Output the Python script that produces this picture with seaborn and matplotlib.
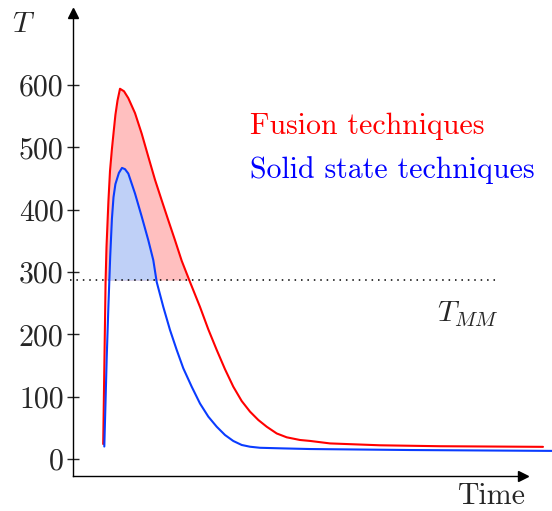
import matplotlib
matplotlib.use("Agg")

import matplotlib.pyplot as plt
import numpy as np
import pandas as pd
import seaborn as sns

# time in arbitrary units, temperatures
fusion_time = [30.2, 31.4, 32.6, 33.5, 35.4, 37.0, 38.9, 40.6, 42.4, 44.5,
               47.0, 51.0, 55.3, 62.0, 68.7, 75.3, 82.0, 88.7, 95.3, 102.0,
               108.7, 117.0, 127.0, 135.3, 143.7, 152.0, 160.3, 168.7, 177.0,
               185.3, 193.7, 203.7, 213.7, 227.0, 237.0, 257.0, 307.0, 367.0,
               470.0]
fusion_temp = [24, 155, 286, 340, 413, 462, 497, 524, 552, 575,
               594, 590, 579, 555, 522, 485, 448, 415, 383, 351,
               318, 284, 244, 208, 175, 144, 116, 93, 76,
               62.6, 51.8, 41, 34.8, 30.5, 29, 25, 22, 20.5,
               19.5]

solid_time = [31.3, 32.5, 33.7, 35.4, 37.2, 38.9, 40.5, 42.4, 45.9, 49.0,
              52.0, 55.3, 62.0, 68.7, 75.3, 80.3, 83.7, 90.3, 97.0, 103.7,
              110.3, 118.7, 127.0, 135.3, 143.7, 152.0, 160.3, 168.7, 177.0,
              187.0, 210.3, 237.0, 337.0, 479.0]
solid_temp = [20, 90, 162, 245, 325, 385, 420, 441, 459, 467,
              465, 458, 426, 389, 351, 319, 284, 244, 207, 175,
              145.5, 116, 89, 68, 51.8, 38.5, 28.9, 22.5, 19.7,
              18, 17, 16, 14.4, 13]

t_mm = 287
t_mm_span = [-3, 424]

y_ticks = [0, 100, 200, 300, 400, 500, 600]
y_tick_labels = ["0", "100", "200", "300", "400", "500", "600"]

red = "#ff0000"
blue = "#0a3cff"
red_fill = "#ffbfbf"
blue_fill = "#bfd0f7"

sns.set_style("white")
plt.rcParams["font.family"] = ["cmr10", "DejaVu Serif"]
plt.rcParams["mathtext.fontset"] = "cm"
plt.rcParams["axes.formatter.use_mathtext"] = True

W, H = 552, 511
fig = plt.figure(figsize=(W / 100, H / 100), dpi=100)
ax = fig.add_axes([73 / W, (H - 475.5) / H, 450 / W, 462.5 / H])

fusion = pd.DataFrame({"time": fusion_time, "T": fusion_temp})
solid = pd.DataFrame({"time": solid_time, "T": solid_temp})

ft = np.array(fusion_time)
fT = np.array(fusion_temp)
st = np.array(solid_time)
sT = np.array(solid_temp)
ax.fill_between(ft, fT, t_mm, where=fT >= t_mm, interpolate=True,
                color=red_fill, linewidth=0, zorder=1)
ax.fill_between(st, sT, t_mm, where=sT >= t_mm, interpolate=True,
                color=blue_fill, linewidth=0, zorder=2)

ax.plot(t_mm_span, [t_mm, t_mm], color="black", linewidth=1.1,
        dashes=(1, 3.2), zorder=3, clip_on=False)

sns.lineplot(data=fusion, x="time", y="T", color=red, linewidth=1.5,
             estimator=None, sort=False, ax=ax, zorder=4, clip_on=False)
sns.lineplot(data=solid, x="time", y="T", color=blue, linewidth=1.5,
             estimator=None, sort=False, ax=ax, zorder=4, clip_on=False)

ax.set_xlim(0, 450)
ax.set_ylim((459 - 475.5) / 0.6233, (459 - 13) / 0.6233)
ax.set_xticks([])
ax.set_yticks(y_ticks, labels=y_tick_labels)
ax.tick_params(axis="y", direction="inout", length=8.5, width=1.0,
               pad=2.5, labelsize=21.5, left=True)
ax.set_xlabel("")
ax.set_ylabel("")

for side in ["top", "right"]:
    ax.spines[side].set_visible(False)
for side in ["left", "bottom"]:
    ax.spines[side].set_linewidth(1.0)
    ax.spines[side].set_color("black")

ax.plot(1, 0, ">", color="black", markersize=7, transform=ax.transAxes, clip_on=False)
ax.plot(0, 1, "^", color="black", markersize=7, transform=ax.transAxes, clip_on=False)

fig.text(12 / W, 1 - 32 / H, r"$T$", fontsize=21.5)
fig.text(437 / W, 1 - 322 / H, r"$T_{MM}$", fontsize=21.5)
fig.text(458 / W, 1 - 504 / H, "Time", fontsize=21.5)
fig.text(250 / W, 1 - 134 / H, "Fusion techniques", fontsize=21.5, color="#ff0000")
fig.text(250 / W, 1 - 178 / H, "Solid state techniques", fontsize=21.5, color="#0000ff")

fig.savefig("out.png", dpi=100)
plt.close(fig)
